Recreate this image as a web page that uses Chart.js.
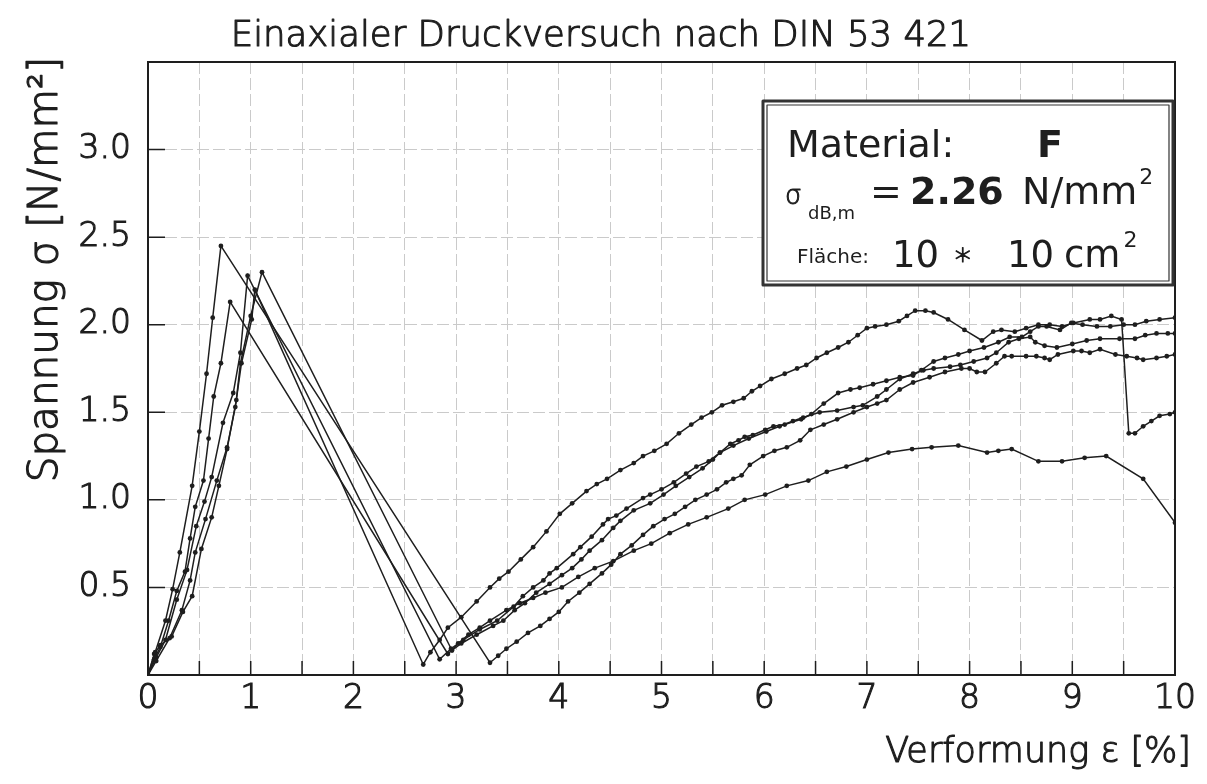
<!DOCTYPE html>
<html>
<head>
<meta charset="utf-8">
<script src="https://cdn.jsdelivr.net/npm/chart.js@4.4.1/dist/chart.umd.min.js"></script>
<style>
html,body{margin:0;padding:0;background:#ffffff;}
#wrap{width:1207px;height:784px;}
</style>
</head>
<body>
<div id="wrap"><canvas id="c" width="1207" height="784"></canvas></div>
<script>
// ---------- texts ----------
const chartTitle = 'Einaxialer Druckversuch nach DIN 53 421';
const xAxisTitle = 'Verformung \u03b5 [%]';
const yAxisTitle = 'Spannung \u03c3 [N/mm\u00b2]';

// ---------- ticks ----------
const xTickValues = [0,1,2,3,4,5,6,7,8,9,10];
const xTickLabels = ['0','1','2','3','4','5','6','7','8','9','10'];
const yTickValues = [0.5,1.0,1.5,2.0,2.5,3.0];
const yTickLabels = ['0.5','1.0','1.5','2.0','2.5','3.0'];

// ---------- legend box ----------
const materialName = 'F';
const meanStrength = '2.26';
const specimenArea = ['10','10'];

// ---------- measured curves: [strain %, stress N/mm2] ----------
const probe1 = [[0,0],[0.08,0.08],[0.21,0.21],[0.33,0.37],[0.41,0.54],[0.46,0.70],[0.56,0.89],[0.67,1.11],[0.77,1.30],[0.85,1.53],[0.91,1.78],[1.01,2.03],[1.04,2.20],
[2.68,0.06],[2.75,0.13],[2.84,0.20],[2.92,0.27],[3.05,0.33],[3.20,0.42],[3.33,0.50],[3.42,0.55],[3.51,0.59],[3.63,0.66],[3.75,0.73],[3.88,0.82],[4.01,0.92],[4.13,0.98],[4.27,1.05],[4.37,1.09],[4.47,1.12],[4.60,1.17],[4.73,1.21],[4.82,1.25],[4.93,1.28],[5.05,1.32],[5.17,1.38],[5.29,1.43],[5.39,1.47],[5.49,1.50],[5.59,1.54],[5.70,1.56],[5.80,1.58],[5.88,1.62],[5.96,1.65],[6.07,1.69],[6.20,1.72],[6.32,1.75],[6.41,1.77],[6.51,1.81],[6.61,1.84],[6.72,1.87],[6.82,1.90],[6.91,1.94],[7.00,1.98],[7.08,1.99],[7.19,2.00],[7.31,2.02],[7.39,2.05],[7.47,2.08],[7.57,2.08],[7.65,2.07],[7.79,2.03],[7.95,1.97],[8.12,1.91],[8.23,1.96],[8.31,1.97],[8.44,1.96],[8.55,1.98],[8.67,2.00],[8.78,2.00],[8.90,1.99],[9.01,2.01],[9.17,2.03],[9.27,2.03],[9.38,2.05],[9.48,2.03],[9.55,1.38],[9.61,1.38],[9.69,1.42],[9.77,1.45],[9.85,1.48],[9.95,1.49],[10.00,1.50]];

const probe2 = [[0,0],[0.07,0.13],[0.17,0.31],[0.24,0.49],[0.31,0.70],[0.43,1.08],[0.50,1.39],[0.57,1.72],[0.63,2.04],[0.71,2.45],
[3.33,0.07],[3.41,0.11],[3.49,0.15],[3.59,0.19],[3.70,0.24],[3.82,0.28],[3.91,0.32],[4.00,0.36],[4.09,0.42],[4.20,0.47],[4.30,0.52],[4.42,0.58],[4.51,0.63],[4.60,0.69],[4.71,0.74],[4.82,0.80],[4.92,0.85],[5.03,0.89],[5.13,0.92],[5.23,0.96],[5.33,1.00],[5.44,1.03],[5.54,1.06],[5.63,1.10],[5.70,1.12],[5.78,1.14],[5.86,1.20],[5.99,1.25],[6.10,1.28],[6.22,1.30],[6.35,1.34],[6.45,1.40],[6.58,1.43],[6.71,1.46],[6.87,1.50],[7.00,1.53],[7.10,1.55],[7.19,1.57],[7.32,1.63],[7.45,1.67],[7.61,1.70],[7.76,1.73],[7.92,1.75],[8.00,1.75],[8.07,1.73],[8.15,1.73],[8.26,1.78],[8.34,1.82],[8.41,1.82],[8.55,1.82],[8.65,1.82],[8.73,1.81],[8.78,1.80],[8.86,1.83],[9.01,1.85],[9.09,1.85],[9.17,1.84],[9.27,1.86],[9.42,1.83],[9.53,1.82],[9.63,1.81],[9.69,1.80],[9.82,1.81],[9.92,1.82],[10.00,1.83]];

const probe3 = [[0,0],[0.06,0.09],[0.12,0.16],[0.20,0.31],[0.28,0.48],[0.36,0.59],[0.41,0.78],[0.46,0.96],[0.54,1.11],[0.59,1.35],[0.64,1.59],[0.71,1.78],[0.80,2.13],
[2.92,0.12],[3.02,0.18],[3.12,0.23],[3.23,0.27],[3.33,0.31],[3.49,0.37],[3.62,0.41],[3.75,0.44],[3.87,0.47],[4.03,0.50],[4.19,0.56],[4.35,0.61],[4.53,0.65],[4.73,0.71],[4.90,0.75],[5.08,0.81],[5.26,0.86],[5.44,0.90],[5.65,0.95],[5.81,1.00],[6.01,1.03],[6.22,1.08],[6.43,1.11],[6.61,1.16],[6.80,1.19],[7.00,1.23],[7.21,1.27],[7.44,1.29],[7.63,1.30],[7.89,1.31],[8.17,1.27],[8.28,1.28],[8.41,1.29],[8.67,1.22],[8.90,1.22],[9.12,1.24],[9.33,1.25],[9.69,1.12],[10.00,0.87]];

const probe4 = [[0,0],[0.08,0.10],[0.17,0.20],[0.28,0.43],[0.38,0.60],[0.47,0.85],[0.55,0.99],[0.62,1.13],[0.73,1.44],[0.83,1.61],[0.90,1.84],[0.97,2.28],
[2.84,0.09],[2.95,0.15],[3.07,0.20],[3.23,0.26],[3.40,0.31],[3.56,0.39],[3.65,0.45],[3.75,0.50],[3.85,0.54],[3.91,0.58],[3.98,0.61],[4.14,0.69],[4.21,0.73],[4.32,0.79],[4.43,0.86],[4.48,0.89],[4.56,0.91],[4.66,0.95],[4.82,1.01],[4.89,1.03],[5.00,1.06],[5.12,1.10],[5.24,1.15],[5.34,1.19],[5.46,1.22],[5.57,1.27],[5.67,1.32],[5.75,1.34],[5.81,1.36],[5.89,1.37],[6.01,1.40],[6.09,1.42],[6.20,1.43],[6.36,1.46],[6.46,1.49],[6.58,1.55],[6.72,1.61],[6.84,1.63],[6.93,1.64],[7.06,1.66],[7.19,1.68],[7.32,1.70],[7.45,1.71],[7.53,1.74],[7.65,1.79],[7.76,1.81],[7.89,1.83],[8.00,1.85],[8.14,1.87],[8.28,1.90],[8.39,1.93],[8.51,1.93],[8.59,1.96],[8.67,1.99],[8.75,1.99],[8.88,1.97],[8.99,2.01],[9.10,2.00],[9.24,1.99],[9.37,1.99],[9.50,2.00],[9.61,2.00],[9.72,2.02],[9.85,2.03],[10.00,2.04]];

const probe5 = [[0,0],[0.06,0.12],[0.12,0.17],[0.23,0.22],[0.34,0.36],[0.43,0.45],[0.52,0.72],[0.62,0.90],[0.69,1.08],[0.77,1.29],[0.86,1.57],[0.90,1.78],[1.00,2.05],[1.11,2.30],
[2.96,0.14],[3.05,0.18],[3.20,0.23],[3.36,0.28],[3.46,0.31],[3.57,0.37],[3.67,0.41],[3.78,0.47],[3.91,0.52],[4.03,0.57],[4.13,0.61],[4.22,0.66],[4.30,0.71],[4.42,0.77],[4.53,0.84],[4.60,0.88],[4.73,0.94],[4.89,0.98],[5.02,1.03],[5.14,1.08],[5.27,1.13],[5.40,1.18],[5.50,1.23],[5.57,1.27],[5.70,1.31],[5.85,1.35],[6.02,1.39],[6.15,1.42],[6.28,1.45],[6.38,1.47],[6.54,1.50],[6.71,1.51],[6.87,1.53],[6.96,1.54],[7.10,1.59],[7.19,1.63],[7.32,1.69],[7.45,1.72],[7.55,1.74],[7.65,1.75],[7.81,1.76],[7.91,1.77],[8.04,1.79],[8.17,1.81],[8.26,1.84],[8.38,1.90],[8.48,1.92],[8.59,1.93],[8.64,1.90],[8.73,1.88],[8.85,1.87],[9.00,1.89],[9.14,1.91],[9.27,1.92],[9.46,1.92],[9.61,1.92],[9.71,1.94],[9.82,1.95],[9.93,1.95],[10.00,1.95]];

const probes = [probe1, probe2, probe3, probe4, probe5];

// ---------- styling ----------
const INK = '#1e1e1e';
const FONT = "'DejaVu Sans', 'Liberation Sans', sans-serif";
const LIGHT = '300';

const datasets = probes.map((p, i) => ({
  label: 'Probe ' + (i + 1),
  data: p.map(([x, y]) => ({x, y})),
  borderColor: INK,
  backgroundColor: INK,
  borderWidth: 1.5,
  pointRadius: 2.4,
  pointHoverRadius: 2.4,
  pointBorderWidth: 0,
  pointBackgroundColor: INK,
  showLine: true,
  tension: 0,
  fill: false
}));

// text helper: light face with a thin outline for a plotter-like stroke
function txt(ctx, s, x, y, size, weight, align, stroke) {
  ctx.font = (weight || 'normal') + ' ' + size + 'px ' + FONT;
  ctx.textAlign = align || 'left';
  ctx.fillText(s, x, y);
  if (stroke) {
    ctx.lineWidth = stroke;
    ctx.strokeStyle = INK;
    ctx.lineJoin = 'round';
    ctx.strokeText(s, x, y);
  }
  return ctx.measureText(s).width;
}

const decor = {
  id: 'decor',
  afterDraw(chart) {
    const {ctx, chartArea: a, scales: {x, y}} = chart;
    ctx.save();
    // inner tick marks
    ctx.strokeStyle = INK;
    ctx.lineWidth = 1.5;
    ctx.beginPath();
    for (let v = 0.5; v < 10; v += 0.5) {
      const px = x.getPixelForValue(v);
      ctx.moveTo(px, a.bottom); ctx.lineTo(px, a.bottom - 14);
    }
    for (let v = 0.5; v < 3.5; v += 0.5) {
      const py = y.getPixelForValue(v);
      ctx.moveTo(a.left, py); ctx.lineTo(a.left + 17, py);
    }
    ctx.stroke();
    // frame
    ctx.lineWidth = 2;
    ctx.strokeRect(a.left, a.top, a.right - a.left, a.bottom - a.top);

    // titles
    ctx.fillStyle = INK;
    ctx.textBaseline = 'alphabetic';
    txt(ctx, chartTitle, 601, 46, 35.5, LIGHT, 'center', 1.1);
    txt(ctx, xAxisTitle, 1191, 762, 35, LIGHT, 'right', 1.1);
    ctx.save();
    ctx.translate(57, 57);
    ctx.rotate(-Math.PI / 2);
    txt(ctx, yAxisTitle, 0, 0, 40.5, LIGHT, 'right', 1.2);
    ctx.restore();

    // legend box
    const bx = 763, by = 101, bw = 410, bh = 184;
    ctx.fillStyle = '#ffffff';
    ctx.fillRect(bx, by, bw, bh);
    ctx.strokeStyle = '#333';
    ctx.lineWidth = 3;
    ctx.strokeRect(bx, by, bw, bh);
    ctx.lineWidth = 1.2;
    ctx.strokeRect(bx + 4, by + 4, bw - 8, bh - 8);

    ctx.fillStyle = INK;
    txt(ctx, 'Material:', 787, 157, 38);
    txt(ctx, materialName, 1037, 157, 38, 'bold');
    txt(ctx, '\u03c3', 785, 204, 26, LIGHT, 'left', 1);
    txt(ctx, 'dB,m', 808, 219, 18);
    txt(ctx, '=', 870, 204, 38);
    txt(ctx, meanStrength, 910, 204, 38, 'bold');
    const wN = txt(ctx, 'N/mm', 1022, 204, 38);
    txt(ctx, '2', 1022 + wN + 2, 184, 22);
    txt(ctx, 'Fl\u00e4che:', 797, 263, 20);
    txt(ctx, specimenArea[0], 892, 267, 37);
    txt(ctx, '\u2217', 953, 265, 32, LIGHT, 'left', 1);
    txt(ctx, specimenArea[1], 1007, 267, 37);
    const wC = txt(ctx, 'cm', 1064, 267, 37);
    txt(ctx, '2', 1064 + wC + 3, 247, 22);
    ctx.restore();
  }
};

new Chart(document.getElementById('c'), {
  type: 'scatter',
  data: { datasets },
  options: {
    responsive: false,
    animation: false,
    devicePixelRatio: 1,
    layout: { padding: { top: 62, right: 32, left: 0, bottom: 0 } },
    plugins: { legend: { display: false }, tooltip: { enabled: false }, title: { display: false } },
    scales: {
      x: {
        type: 'linear', min: 0, max: 10,
        afterFit(s) { s.height = 109; },
        ticks: {
          stepSize: 0.5, autoSkip: false, maxRotation: 0, padding: 5,
          color: INK, textStrokeColor: INK, textStrokeWidth: 1.1,
          font: { family: FONT, size: 33, weight: LIGHT },
          callback(v) { const i = xTickValues.indexOf(v); return i >= 0 ? xTickLabels[i] : ''; }
        },
        grid: { color: '#cacaca', lineWidth: 1, drawTicks: false },
        border: { display: true, color: INK, width: 2, dash: [12, 4] }
      },
      y: {
        type: 'linear', min: 0, max: 3.5,
        afterFit(s) { s.width = 148; },
        ticks: {
          stepSize: 0.5, autoSkip: false, padding: 17,
          color: INK, textStrokeColor: INK, textStrokeWidth: 1.1,
          font: { family: FONT, size: 33, weight: LIGHT },
          callback(v) { const i = yTickValues.indexOf(v); return i >= 0 ? yTickLabels[i] : ''; }
        },
        grid: { color: '#cacaca', lineWidth: 1, drawTicks: false },
        border: { display: true, color: INK, width: 2, dash: [12, 4] }
      }
    }
  },
  plugins: [decor]
});
</script>
</body>
</html>
